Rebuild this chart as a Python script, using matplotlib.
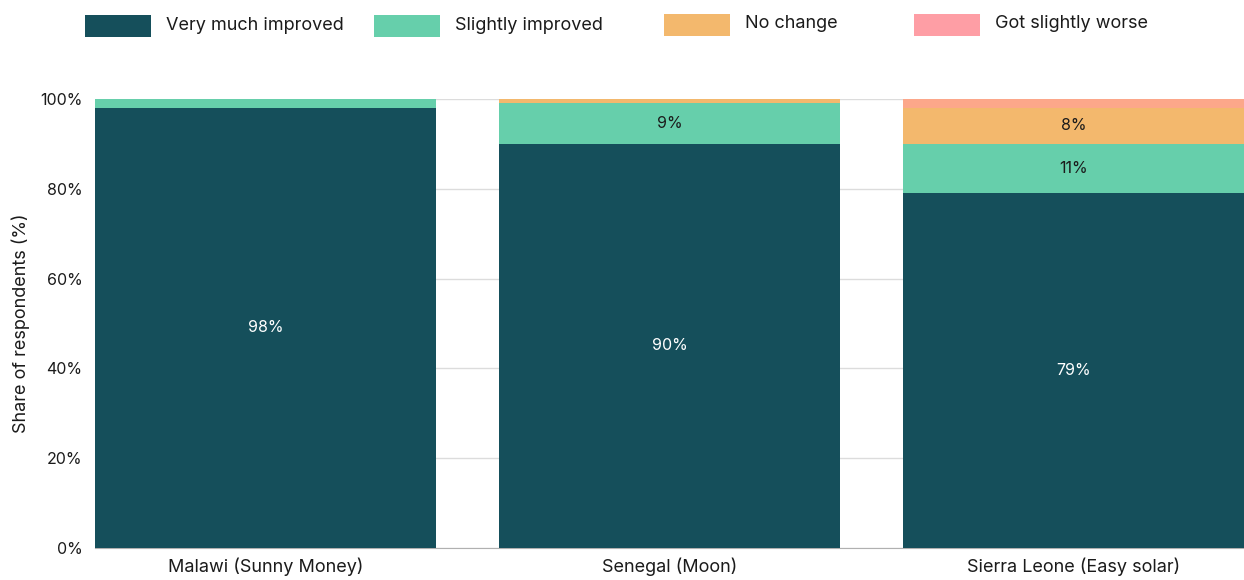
import matplotlib
matplotlib.use("Agg")
import matplotlib.pyplot as plt
from matplotlib.patches import Rectangle
import numpy as np

plt.rcParams['font.family'] = ['Inter', 'DejaVu Sans']

categories = ["Malawi (Sunny Money)", "Senegal (Moon)", "Sierra Leone (Easy solar)"]
series_names = ["Very much improved", "Slightly improved", "No change", "Got slightly worse"]
very_much_improved = [98, 90, 79]
slightly_improved = [2, 9, 11]
no_change = [0, 1, 8]
got_slightly_worse = [0, 0, 2]
yticks = [0, 20, 40, 60, 80, 100]

colors = ["#154f5b", "#66cfab", "#f3b86d", "#fca78a"]
legend_colors = ["#154f5b", "#66cfab", "#f3b86d", "#fe9ea5"]
label_colors = ["white", "#1b1b1b", "#1b1b1b", "#1b1b1b"]

W, H = 1244, 580
fig = plt.figure(figsize=(W / 100, H / 100), dpi=100)
ax = fig.add_axes([95 / W, 1 - 548 / H, (1244 - 95) / W, (548 - 99) / H])

x = np.arange(len(categories))
width = 0.843
bottom = np.zeros(len(categories))
series = [very_much_improved, slightly_improved, no_change, got_slightly_worse]
for vals, col, lc in zip(series, colors, label_colors):
    vals = np.array(vals, dtype=float)
    ax.bar(x, vals, width, bottom=bottom, color=col, zorder=2, linewidth=0)
    for xi, v, b in zip(x, vals, bottom):
        if v >= 5:
            ax.text(xi, b + v / 2, f"{int(v)}%", ha="center", va="center",
                    color=lc, fontsize=11.5, zorder=3)
    bottom += vals

ax.set_xlim(-width / 2, len(categories) - 1 + width / 2)
ax.set_ylim(0, 100)
ax.set_yticks(yticks)
ax.set_yticklabels([f"{t}%" for t in yticks], fontsize=11.5, color="#1b1b1b")
ax.set_xticks(x)
ax.set_xticklabels(categories, fontsize=13, color="#1b1b1b")
ax.tick_params(axis="both", length=0)
ax.tick_params(axis="y", pad=9)
ax.tick_params(axis="x", pad=7)
ax.yaxis.grid(True, color="#dcdcdc", linewidth=1, zorder=0)
ax.set_axisbelow(True)
for s in ["top", "right", "left"]:
    ax.spines[s].set_visible(False)
ax.spines["bottom"].set_color("#b0b0b0")
ax.spines["bottom"].set_zorder(1)
ax.set_ylabel("Share of respondents (%)", fontsize=13, color="#1b1b1b", va="center")
ax.yaxis.set_label_coords(-74 / 1149, 0.5)

# legend row across the top
legend_x = [85, 374, 664, 914]
legend_y = [15, 15, 14, 14]
for name, col, lx, ly in zip(series_names, legend_colors, legend_x, legend_y):
    fig.add_artist(Rectangle((lx / W, 1 - (ly + 22) / H), 66 / W, 22 / H,
                             transform=fig.transFigure, color=col, linewidth=0))
    fig.text((lx + 81) / W, 1 - (ly + 10) / H, name, ha="left", va="center",
             fontsize=13, color="#1b1b1b")

fig.savefig("out.png", dpi=100)
